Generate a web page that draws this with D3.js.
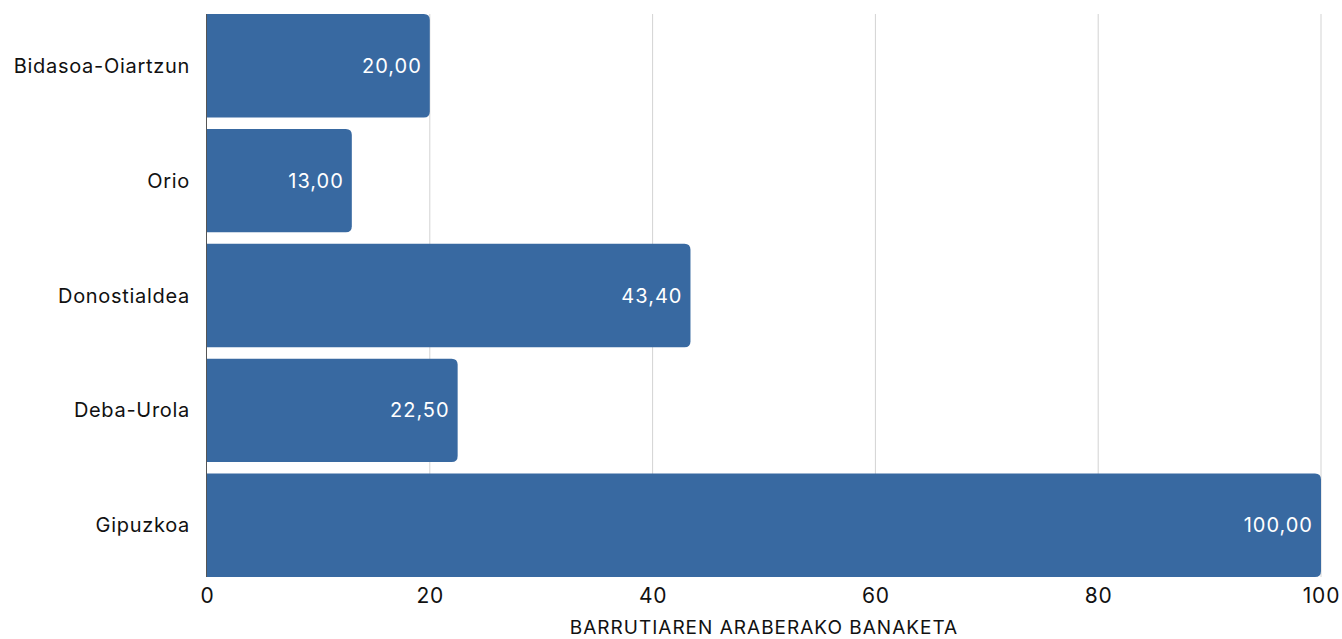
<!DOCTYPE html>
<html>
<head>
<meta charset="utf-8">
<script src="https://cdn.jsdelivr.net/npm/d3@7"></script>
<style>
  body { margin: 0; background: #fff; }
  text { font-family: Inter, "Noto Sans", sans-serif; }
</style>
</head>
<body>
<div id="chart"></div>
<script>
// data
var regions = ['Bidasoa-Oiartzun', 'Orio', 'Donostialdea', 'Deba-Urola', 'Gipuzkoa']
var values = [20.0, 13.0, 43.4, 22.5, 100.0]
var xTicks = [0, 20, 40, 60, 80, 100]
var axisTitle = 'BARRUTIAREN ARABERAKO BANAKETA'

var W = 1342
var H = 639
var margin = { top: 14, left: 207, right: 21, bottom: 62 }
var width = W - margin.left - margin.right
var height = H - margin.top - margin.bottom

var svg = d3.select('#chart')
  .append('svg')
  .attr('width', W)
  .attr('height', H)

var g = svg.append('g')
  .attr('transform', 'translate(' + margin.left + ',' + margin.top + ')')

var x = d3.scaleLinear().domain([0, 100]).range([0, width])
var y = d3.scaleBand().domain(regions).range([0, height]).paddingInner(0.1).paddingOuter(0)

// gridlines
g.selectAll('.grid')
  .data(xTicks.slice(1))
  .enter()
  .append('line')
  .attr('x1', d => x(d))
  .attr('x2', d => x(d))
  .attr('y1', 0)
  .attr('y2', height)
  .attr('stroke', '#d3d3d3')
  .attr('stroke-width', 1)

var rows = regions.map((r, i) => ({ name: r, value: values[i] }))

// bar with rounded right corners
function barPath(d) {
  var x0 = x(0), x1 = x(d.value), y0 = y(d.name), h = y.bandwidth()
  var r = 6
  return 'M' + x0 + ',' + y0 +
    'H' + (x1 - r) +
    'Q' + x1 + ',' + y0 + ' ' + x1 + ',' + (y0 + r) +
    'V' + (y0 + h - r) +
    'Q' + x1 + ',' + (y0 + h) + ' ' + (x1 - r) + ',' + (y0 + h) +
    'H' + x0 + 'Z'
}

g.selectAll('.bar')
  .data(rows)
  .enter()
  .append('path')
  .attr('class', 'bar')
  .attr('d', barPath)
  .attr('fill', '#3869a1')

// value labels
var fmt = v => v.toFixed(2).replace('.', ',')
g.selectAll('.val')
  .data(rows)
  .enter()
  .append('text')
  .attr('x', d => x(d.value) - 8)
  .attr('y', d => y(d.name) + y.bandwidth() / 2)
  .attr('dy', '0.35em')
  .attr('text-anchor', 'end')
  .attr('fill', '#fff')
  .attr('font-size', 20)
  .attr('letter-spacing', 1)
  .text(d => fmt(d.value))

// y axis line
g.append('line')
  .attr('x1', -0.5).attr('x2', -0.5)
  .attr('y1', 0).attr('y2', height)
  .attr('stroke', '#555')
  .attr('stroke-width', 1)

// category labels
g.selectAll('.cat')
  .data(regions)
  .enter()
  .append('text')
  .attr('x', -17)
  .attr('y', d => y(d) + y.bandwidth() / 2)
  .attr('dy', '0.35em')
  .attr('text-anchor', 'end')
  .attr('fill', '#111')
  .attr('font-size', 20)
  .attr('letter-spacing', 0.7)
  .text(d => d)

// x tick labels
var xAxis = d3.axisBottom(x).tickValues(xTicks).tickSize(0).tickPadding(11)
var xg = g.append('g')
  .attr('transform', 'translate(0,' + height + ')')
  .call(xAxis)
xg.select('.domain').remove()
xg.selectAll('text')
  .attr('font-size', 21)
  .attr('fill', '#111')
  .attr('letter-spacing', 0.8)
  .style('font-family', 'Inter, "Noto Sans", sans-serif')

// axis title
svg.append('text')
  .attr('x', margin.left + width / 2)
  .attr('y', 634)
  .attr('text-anchor', 'middle')
  .attr('fill', '#111')
  .attr('font-size', 19)
  .attr('letter-spacing', 1)
  .text(axisTitle)
</script>
</body>
</html>
